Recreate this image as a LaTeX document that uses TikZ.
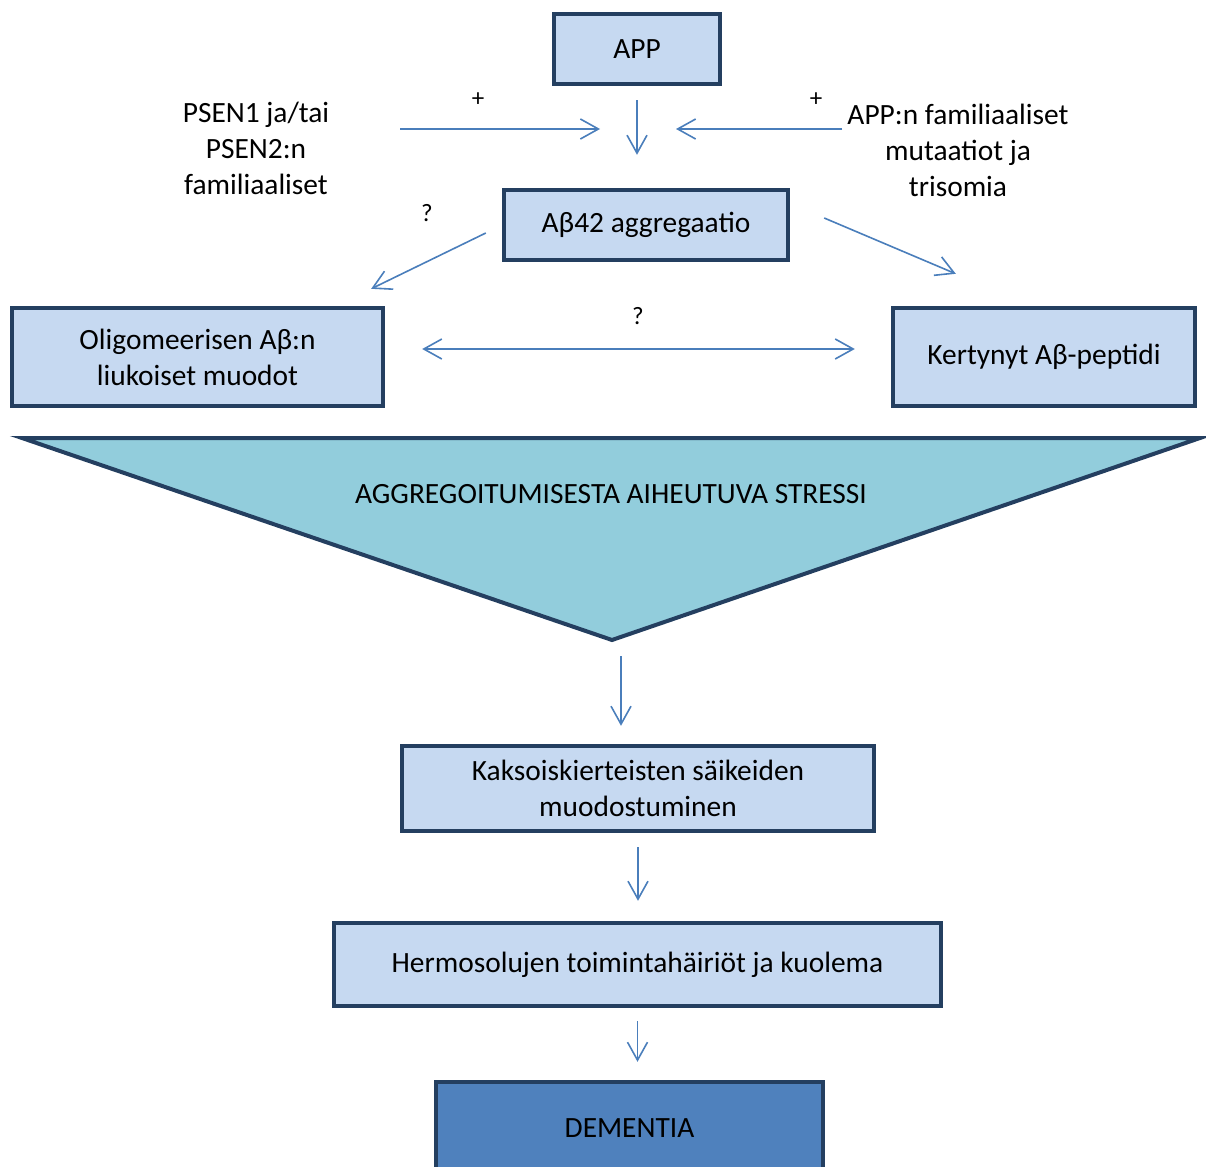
\documentclass[tikz,border=0pt]{standalone}
\usepackage{fontspec}
\setmainfont{Carlito}
\usetikzlibrary{arrows.meta}
\definecolor{boxfill}{HTML}{C6D9F1}
\definecolor{boxedge}{HTML}{243F60}
\definecolor{arrblue}{HTML}{4A7EBB}
\definecolor{stressfill}{HTML}{92CDDC}
\definecolor{dementfill}{HTML}{4F81BD}

\begin{document}
\begin{tikzpicture}[
    x=0.5pt, y=-0.5pt,
    box/.style={draw=boxedge, line width=2.2pt, fill=boxfill, align=center,
                font=\fontsize{14.7}{18}\selectfont, inner sep=0pt},
    lbl/.style={align=center, font=\fontsize{14.7}{18}\selectfont},
    sign/.style={font=\fontsize{12.5}{13}\selectfont},
    arr/.style={-{Straight Barb[length=9pt, width=10pt]}, line width=0.8pt, color=arrblue},
    dblarr/.style={{Straight Barb[length=9pt, width=10pt]}-{Straight Barb[length=9pt, width=10pt]},
                   line width=0.8pt, color=arrblue},
]
    \useasboundingbox (0,0) rectangle (1206,1167);

    \node[box, minimum width=83pt, minimum height=35pt]    (app)   at (637,49)    {APP};
    \node[box, minimum width=142pt, minimum height=35pt]   (ab42)  at (646,225)   {Aβ42 aggregaatio};
    \node[box, minimum width=185.5pt, minimum height=49pt] (oligo) at (197.5,357) {Oligomeerisen Aβ:n\\liukoiset muodot};
    \node[box, minimum width=151pt, minimum height=49pt]   (kert)  at (1044,357)  {Kertynyt Aβ-peptidi};

    \node[lbl] (psen)   at (256,148) {PSEN1 ja/tai\\PSEN2:n\\familiaaliset};
    \node[lbl] (appmut) at (958,150) {APP:n familiaaliset\\mutaatiot ja\\trisomia};
    \node[sign] (plusl) at (478,100) {+};
    \node[sign] (plusr) at (816,100) {+};
    \node[sign] (qleft) at (427,213) {?};
    \node[sign] (qmid)  at (638,316) {?};

    % stressikolmio
    \coordinate (tl)   at (22,438);
    \coordinate (tr)   at (1200,438);
    \coordinate (apex) at (612,640);
    \draw[draw=boxedge, line width=2pt, fill=stressfill] (tl) -- (tr) -- (apex) -- cycle;
    \node[lbl] (stress) at (611,494) {AGGREGOITUMISESTA AIHEUTUVA STRESSI};

    \node[box, minimum width=236pt, minimum height=42.5pt]   (kaks)   at (638,788.5)  {Kaksoiskierteisten säikeiden\\muodostuminen};
    \node[box, minimum width=303.5pt, minimum height=41.5pt] (hermo)  at (637.5,964.5) {Hermosolujen toimintahäiriöt ja kuolema};
    \node[box, fill=dementfill, minimum width=193.5pt, minimum height=46pt] (dement) at (629.5,1128) {DEMENTIA};

    \coordinate (join)    at (638,129);
    \coordinate (psenend) at (400,129);
    \coordinate (mutend)  at (842,129);

    \draw[arr, shorten <=7pt, shorten >=16.5pt] (app.south) -- (app.south |- ab42.north);
    \draw[arr, shorten >=19pt] (psenend) -- (join);
    \draw[arr, shorten >=19pt] (mutend) -- (join);
    \draw[arr] ([shift={(-16,8)}]ab42.west) -- ([shift={(-14,-17)}]oligo.north east);
    \draw[arr] ([shift={(34,-7)}]ab42.east) -- ([shift={(65,-32)}]kert.north west);
    \draw[dblarr] ([shift={(37,-8)}]oligo.east) -- ([shift={(-36,-8)}]kert.west);
    \draw[arr, shorten >=9pt] ([shift={(9,16)}]apex) -- ([shift={(9,0)}]apex |- kaks.north);
    \draw[arr, shorten <=7pt, shorten >=10pt] (kaks.south) -- (kaks.south |- hermo.north);
    \draw[arr, shorten <=6.5pt, shorten >=9pt] (hermo.south) -- (hermo.south |- dement.north);
\end{tikzpicture}
\end{document}
